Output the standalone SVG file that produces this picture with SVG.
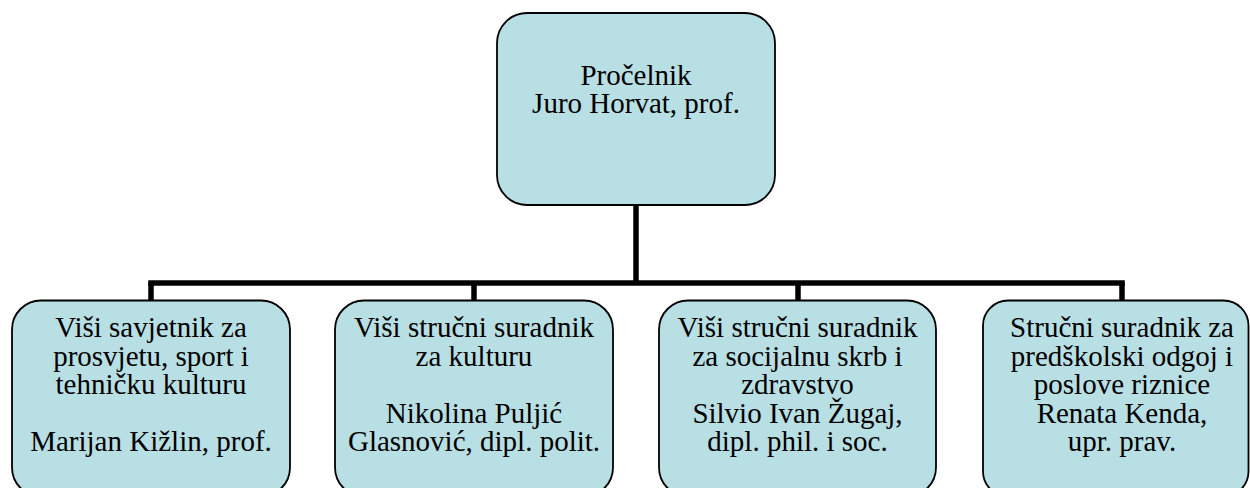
<svg xmlns="http://www.w3.org/2000/svg" width="1250" height="488" viewBox="0 0 1250 488">
<style>
.box{fill:#B8DFE3;stroke:#000;stroke-width:1.8}
.t{font-family:"Liberation Serif","Times New Roman",serif;font-size:29px;fill:#000;text-anchor:middle}
.c{stroke:#000;stroke-width:5.5;fill:none}
</style>
<rect width="1250" height="488" fill="#fff"/>
<g id="connectors">
<line class="c" x1="636" y1="205" x2="636" y2="283"/>
<line class="c" x1="148.25" y1="283" x2="1124.75" y2="283"/>
<line class="c" x1="151" y1="283" x2="151" y2="300"/>
<line class="c" x1="474" y1="283" x2="474" y2="300"/>
<line class="c" x1="798" y1="283" x2="798" y2="300"/>
<line class="c" x1="1122" y1="283" x2="1122" y2="300"/>
</g>
<g id="n0">
<rect class="box" x="497" y="13" width="278" height="192" rx="30"/>
<text class="t" x="636" y="84.5">Pročelnik</text>
<text class="t" x="636" y="113.3">Juro Horvat, prof.</text>
</g>
<g id="n1">
<rect class="box" x="12" y="300.5" width="278" height="196" rx="29"/>
<text class="t" x="151" y="337">Viši savjetnik za</text>
<text class="t" x="151" y="365.5">prosvjetu, sport i</text>
<text class="t" x="151" y="394">tehničku kulturu</text>
<text class="t" x="151" y="451">Marijan Kižlin, prof.</text>
</g>
<g id="n2">
<rect class="box" x="335" y="300.5" width="278" height="196" rx="29"/>
<text class="t" x="474" y="337">Viši stručni suradnik</text>
<text class="t" x="474" y="365.5">za kulturu</text>
<text class="t" x="474" y="422.5">Nikolina Puljić</text>
<text class="t" x="474" y="451">Glasnović, dipl. polit.</text>
</g>
<g id="n3">
<rect class="box" x="659" y="300.5" width="277" height="196" rx="29"/>
<text class="t" x="797.5" y="337">Viši stručni suradnik</text>
<text class="t" x="797.5" y="365.5">za socijalnu skrb i</text>
<text class="t" x="797.5" y="394">zdravstvo</text>
<text class="t" x="797.5" y="422.5">Silvio Ivan Žugaj,</text>
<text class="t" x="797.5" y="451">dipl. phil. i soc.</text>
</g>
<g id="n4">
<rect class="box" x="983" y="300.5" width="265.5" height="196" rx="25"/>
<text class="t" x="1122" y="337">Stručni suradnik za</text>
<text class="t" x="1122" y="365.5">predškolski odgoj i</text>
<text class="t" x="1122" y="394">poslove riznice</text>
<text class="t" x="1122" y="422.5">Renata Kenda,</text>
<text class="t" x="1122" y="451">upr. prav.</text>
</g>
</svg>
